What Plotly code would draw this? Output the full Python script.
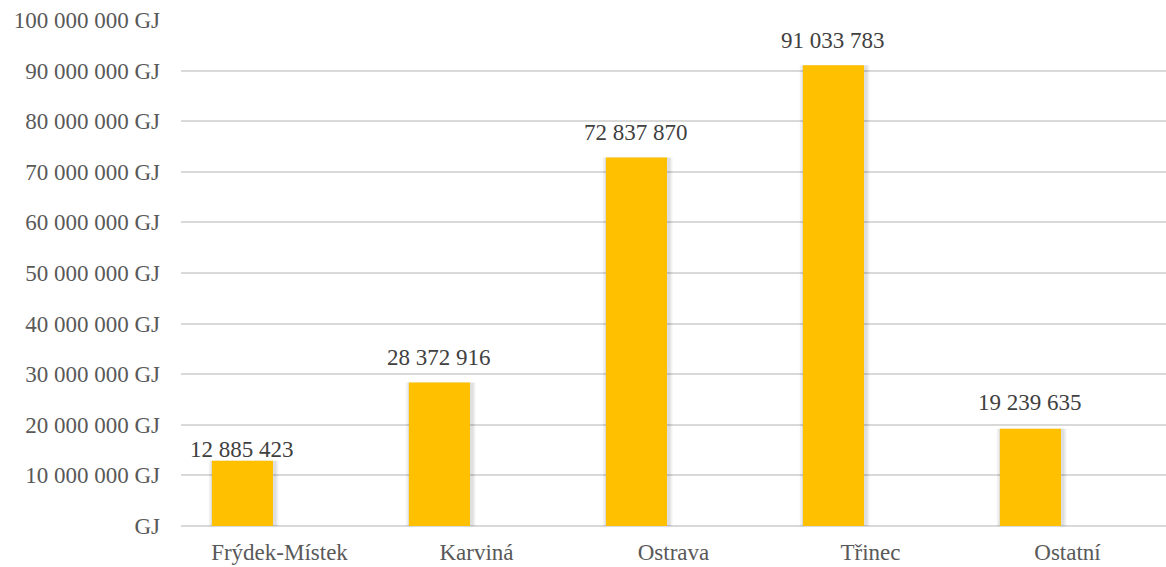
import plotly.graph_objects as go

# Spotřeba energie podle lokality
categories = ["Frýdek-Místek", "Karviná", "Ostrava", "Třinec", "Ostatní"]
values = [12885423, 28372916, 72837870, 91033783, 19239635]
tick_values = [0, 10e6, 20e6, 30e6, 40e6, 50e6, 60e6, 70e6, 80e6, 90e6, 100e6]
tick_labels = ["GJ", "10 000 000 GJ", "20 000 000 GJ", "30 000 000 GJ", "40 000 000 GJ",
               "50 000 000 GJ", "60 000 000 GJ", "70 000 000 GJ", "80 000 000 GJ",
               "90 000 000 GJ", "100 000 000 GJ"]

FONT = "Liberation Serif, Times New Roman, serif"
TEXT = "#595959"
LABEL = "#404040"

BAR_OFFSET = -0.343
BAR_WIDTH = 0.31

fig = go.Figure()

# soft shadow behind each bar
for grow, alpha in [(0.022, 0.05), (0.012, 0.08)]:
    fig.add_trace(go.Bar(
        x=categories, y=values,
        width=BAR_WIDTH + 2 * grow, offset=BAR_OFFSET - grow + 0.006,
        marker=dict(color=f"rgba(0,0,0,{alpha})", line=dict(width=0)),
        hoverinfo="skip",
    ))

fig.add_trace(go.Bar(
    x=categories,
    y=values,
    width=BAR_WIDTH,
    offset=BAR_OFFSET,
    marker=dict(color="#FFC000", line=dict(width=0)),
))

# value labels above the bars
label_shift = [-3, 10, 10, 10, 12]
for i, v in enumerate(values):
    fig.add_annotation(
        x=i + BAR_OFFSET + BAR_WIDTH / 2, y=v,
        text=f"{v:,}".replace(",", " "),
        showarrow=False, yanchor="bottom", xanchor="center",
        yshift=label_shift[i],
        font=dict(family=FONT, size=23, color=LABEL),
    )

fig.update_layout(
    width=1166, height=567,
    margin=dict(l=181, r=0, t=20, b=41),
    paper_bgcolor="white", plot_bgcolor="white",
    barmode="overlay",
    showlegend=False,
    font=dict(family=FONT, size=23, color=TEXT),
)
fig.update_xaxes(
    showgrid=False, showline=False, zeroline=False,
    tickfont=dict(family=FONT, size=23, color=TEXT),
    ticks="", ticklabelstandoff=10,
)
fig.update_yaxes(
    range=[0, 100e6],
    tickvals=tick_values, ticktext=tick_labels,
    showgrid=True, gridcolor="#D9D9D9", gridwidth=1.5,
    zeroline=True, zerolinecolor="#D9D9D9", zerolinewidth=1.5,
    showline=False, ticks="",
    tickfont=dict(family=FONT, size=23, color=TEXT),
    ticklabelstandoff=20,
)

fig.write_html("out.html")
